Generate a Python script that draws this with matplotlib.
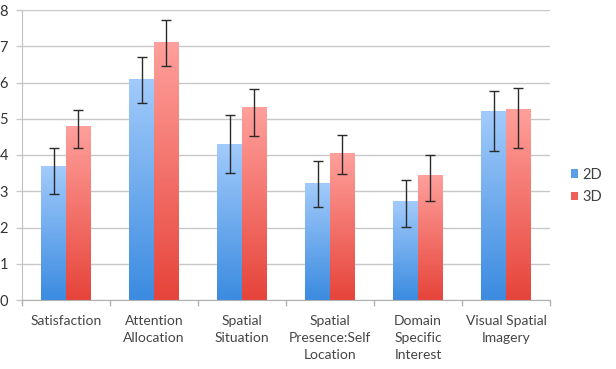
import matplotlib
matplotlib.use("Agg")
import matplotlib.pyplot as plt
import numpy as np
from matplotlib.colors import LinearSegmentedColormap
from matplotlib.patches import Patch

categories = ["Satisfaction", "Attention\nAllocation", "Spatial\nSituation",
              "Spatial\nPresence:Self\nLocation", "Domain\nSpecific\nInterest",
              "Visual Spatial\nImagery"]
series_names = ["2D", "3D"]
vals_2d = [3.67, 6.07, 4.29, 3.22, 2.72, 5.21]
vals_3d = [4.78, 7.10, 5.32, 4.03, 3.43, 5.26]
err_hi_2d = [4.20, 6.71, 5.10, 3.84, 3.31, 5.77]
err_lo_2d = [2.92, 5.44, 3.49, 2.56, 2.02, 4.11]
err_hi_3d = [5.24, 7.73, 5.81, 4.55, 4.01, 5.84]
err_lo_3d = [4.18, 6.46, 4.52, 3.47, 2.72, 4.20]
yticks = [0, 1, 2, 3, 4, 5, 6, 7, 8]

plt.rcParams['font.family'] = ['Lato', 'DejaVu Sans']

fig = plt.figure(figsize=(6.16, 3.69), dpi=100)
ax = fig.add_axes([22/616, 1-300/369, (550-22)/616, 290/369])

blue_cmap = LinearSegmentedColormap.from_list("b", ["#3b8be0", "#a2cbfb"])
red_cmap = LinearSegmentedColormap.from_list("r", ["#e6443a", "#ffa09c"])

w = 0.284
x = np.arange(len(categories))
grad = np.linspace(0, 1, 256).reshape(-1, 1)

for vals, lo, hi, off, cmap in [(vals_2d, err_lo_2d, err_hi_2d, -w/2, blue_cmap),
                                (vals_3d, err_lo_3d, err_hi_3d, w/2, red_cmap)]:
    bars = ax.bar(x + off, vals, width=w, color='none', edgecolor='none', zorder=2)
    for b in bars:
        bx, by = b.get_x(), b.get_y()
        bw, bh = b.get_width(), b.get_height()
        ax.imshow(grad, cmap=cmap, origin='lower', aspect='auto',
                  extent=(bx, bx + bw, by, by + bh), zorder=2, interpolation='bilinear')
    v = np.array(vals)
    yerr = np.vstack([v - np.array(lo), np.array(hi) - v])
    ax.errorbar(x + off, v, yerr=yerr, fmt='none', ecolor='#2a2a2a',
                elinewidth=1.0, capsize=3.3, capthick=1.0, zorder=3)

ax.set_xlim(-0.5, len(categories) - 0.5)
ax.set_ylim(0, 8)
ax.set_yticks(yticks)
ax.set_yticklabels([str(t) for t in yticks], fontsize=10.5, color='#333333')
ax.yaxis.grid(True, color='#c8c8c8', linewidth=1.0, zorder=0)
ax.set_axisbelow(True)

ax.set_xticks(x)
ax.set_xticklabels(categories, fontsize=10, color='#454545', linespacing=1.5)
ax.tick_params(axis='x', length=0, pad=11)
ax.set_xticks(np.arange(-0.5, len(categories), 1.0), minor=True)
ax.tick_params(axis='x', which='minor', length=4, color='#b0b0b0', width=1)
ax.tick_params(axis='y', length=4, color='#c8c8c8', width=1, pad=6)

for s in ['top', 'right']:
    ax.spines[s].set_visible(False)
ax.spines['left'].set_color('#c0c0c0')
ax.spines['bottom'].set_color('#b0b0b0')

handles = [Patch(facecolor='#5b9ee8', edgecolor='none'),
           Patch(facecolor='#f0605a', edgecolor='none')]
fig.legend(handles, series_names, loc='center left', bbox_to_anchor=(558/616, 1-186/369),
           frameon=False, fontsize=10.5, handlelength=0.5, handleheight=0.5,
           handletextpad=0.3, labelspacing=0.6, labelcolor='#404040')

fig.savefig("out.png", dpi=100)
